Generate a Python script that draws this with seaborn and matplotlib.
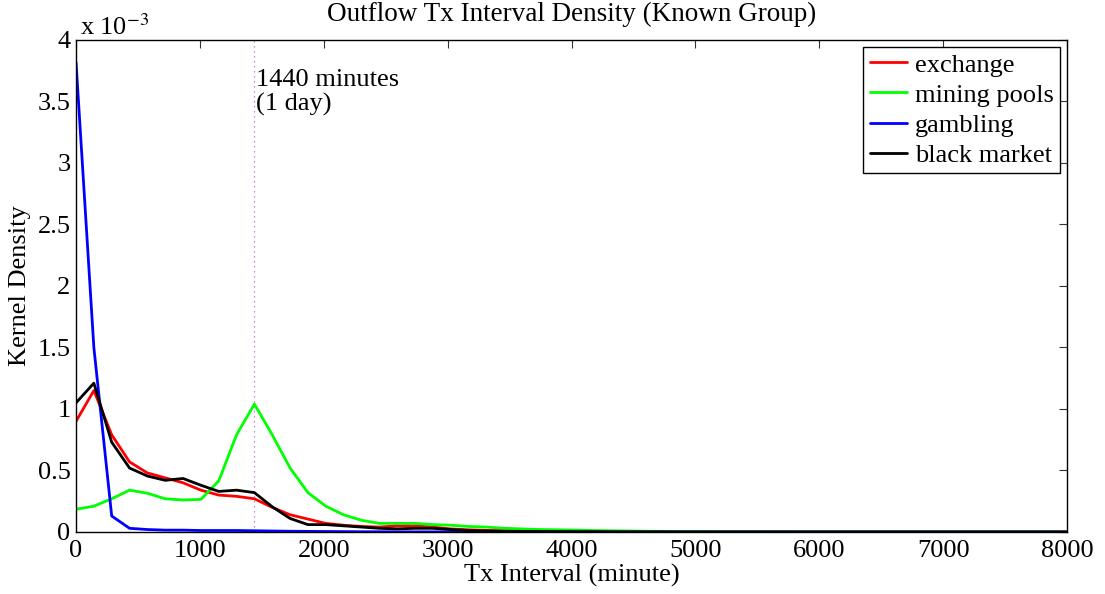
import numpy as np
import pandas as pd
import matplotlib
matplotlib.use("Agg")
import matplotlib.pyplot as plt
import seaborn as sns
from matplotlib.ticker import FuncFormatter

# Evaluation grid of the kernel density estimate (minutes)
interval = np.arange(0, 8064 + 1, 144)

# Densities in units of 1e-3
exchange = [0.90, 1.15, 0.79, 0.57, 0.48, 0.44, 0.40, 0.34, 0.30, 0.29, 0.27,
            0.20, 0.14, 0.105, 0.07, 0.055, 0.045, 0.04, 0.05, 0.05, 0.04,
            0.025, 0.018, 0.013, 0.010, 0.008, 0.006, 0.005, 0.004, 0.003, 0.003,
            0.002, 0.002, 0.002, 0.001, 0.001, 0.001, 0.001, 0.001, 0.001, 0.0,
            0.0, 0.0, 0.0, 0.0, 0.0, 0.0, 0.0, 0.0, 0.0, 0.0,
            0.0, 0.0, 0.0, 0.0, 0.0, 0.0]
mining_pools = [0.185, 0.21, 0.27, 0.34, 0.315, 0.27, 0.26, 0.265, 0.415, 0.79, 1.04,
                0.79, 0.52, 0.32, 0.21, 0.14, 0.095, 0.07, 0.07, 0.07, 0.06,
                0.055, 0.045, 0.04, 0.03, 0.025, 0.02, 0.018, 0.015, 0.012, 0.01,
                0.008, 0.006, 0.005, 0.004, 0.003, 0.002, 0.002, 0.001, 0.001, 0.001,
                0.0, 0.0, 0.0, 0.0, 0.0, 0.0, 0.0, 0.0, 0.0, 0.0,
                0.0, 0.0, 0.0, 0.0, 0.0, 0.0]
gambling = [3.82, 1.50, 0.13, 0.03, 0.02, 0.015, 0.015, 0.012, 0.012, 0.012, 0.010,
            0.008, 0.006, 0.005, 0.004, 0.003, 0.002, 0.002, 0.001, 0.001, 0.001,
            0.001, 0.0, 0.0, 0.0, 0.0, 0.0, 0.0, 0.0, 0.0, 0.0,
            0.0, 0.0, 0.0, 0.0, 0.0, 0.0, 0.0, 0.0, 0.0, 0.0,
            0.0, 0.0, 0.0, 0.0, 0.0, 0.0, 0.0, 0.0, 0.0, 0.0,
            0.0, 0.0, 0.0, 0.0, 0.0, 0.0]
black_market = [1.05, 1.21, 0.73, 0.52, 0.455, 0.42, 0.435, 0.38, 0.33, 0.34, 0.32,
                0.205, 0.11, 0.06, 0.06, 0.05, 0.04, 0.03, 0.025, 0.03, 0.03,
                0.02, 0.012, 0.008, 0.006, 0.005, 0.004, 0.003, 0.002, 0.002, 0.001,
                0.001, 0.001, 0.001, 0.0, 0.0, 0.0, 0.0, 0.0, 0.0, 0.0,
                0.0, 0.0, 0.0, 0.0, 0.0, 0.0, 0.0, 0.0, 0.0, 0.0,
                0.0, 0.0, 0.0, 0.0, 0.0, 0.0]

groups = ["exchange", "mining pools", "gambling", "black market"]
colors = ["#ff0000", "#00ff00", "#0000ff", "#000000"]
series = [exchange, mining_pools, gambling, black_market]

frames = []
for name, vals in zip(groups, series):
    frames.append(pd.DataFrame({"interval": interval,
                                "density": np.array(vals) * 1e-3,
                                "group": name}))
df = pd.concat(frames, ignore_index=True)

sns.set_theme(style="white")
plt.rcParams["font.family"] = ["Liberation Serif", "DejaVu Serif"]
plt.rcParams["mathtext.fontset"] = "stix"
for key in ("text.color", "axes.labelcolor", "xtick.color", "ytick.color"):
    plt.rcParams[key] = "black"

FS = 19
fig = plt.figure(figsize=(11.05, 5.94), dpi=100)
ax = fig.add_axes([0.0688, 0.1044, 0.8968, 0.8283])

sns.lineplot(data=df, x="interval", y="density", hue="group",
             hue_order=groups, palette=colors, linewidth=2.0, ax=ax,
             estimator=None, sort=False)

# one-day marker
ax.axvline(1440, color="#b070b8", linestyle=(0, (1, 3)), linewidth=0.9, zorder=0)
ax.text(1450, 3.76e-3, "1440 minutes\n(1 day)", fontsize=FS, va="top", ha="left",
        linespacing=1.1)

ax.set_xlim(0, 8000)
ax.set_ylim(0, 4e-3)
ax.set_xticks(np.arange(0, 8001, 1000))
ax.set_yticks(np.arange(0, 4.01e-3, 0.5e-3))
ax.yaxis.set_major_formatter(FuncFormatter(lambda v, p: f"{v * 1e3:g}"))

ax.tick_params(direction="in", length=6, width=0.8, top=True, right=True,
               labelsize=FS, color="#333333")
ax.tick_params(axis="x", pad=6)
ax.tick_params(axis="y", pad=4)
for s in ax.spines.values():
    s.set_color("black")
    s.set_linewidth(1.0)

ax.set_xlabel("Tx Interval (minute)", fontsize=FS, labelpad=1)
ax.set_ylabel("Kernel Density", fontsize=FS, labelpad=5)
ax.set_title("Outflow Tx Interval Density (Known Group)", fontsize=19.5, pad=14)

fig.text(80 / 1105, 1 - 35 / 594, r"x 10$^{-3}$", fontsize=FS, ha="left", va="baseline")

leg = ax.legend(loc="upper right", fontsize=FS, frameon=True, fancybox=False,
                framealpha=1, edgecolor="black", borderaxespad=0.25,
                handlelength=1.4, handletextpad=0.3, labelspacing=0.25,
                borderpad=0.25)
leg.get_frame().set_linewidth(1.0)

fig.savefig("out.png", dpi=100)
